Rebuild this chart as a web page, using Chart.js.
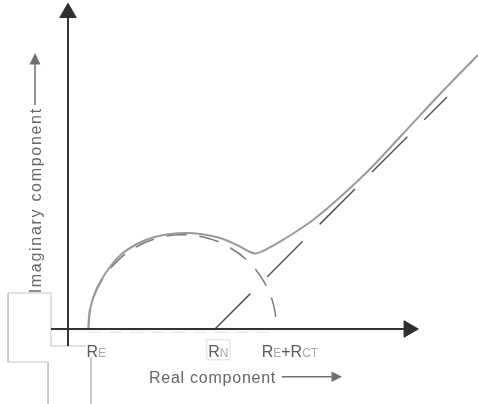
<!DOCTYPE html>
<html>
<head>
<meta charset="utf-8">
<script src="https://cdn.jsdelivr.net/npm/chart.js@4"></script>
<style>
  html, body { margin: 0; padding: 0; background: #fff; }
  #chart { display: block; }
</style>
</head>
<body>
<canvas id="chart" width="478" height="404"></canvas>
<script>
// Nyquist sketch: real vs imaginary component

// markers on the real axis
const R_E = 2.03;
const R_N = 14.7;
const R_ECT = 20.87;
const markValues = [R_E, R_N, R_ECT];
const markLabels = [
  [['R', 0], ['E', 1]],
  [['R', 0], ['N', 1]],
  [['R', 0], ['E', 1], ['+', 0], ['R', 0], ['CT', 1]],
];

const curveX = [2.03, 2.2, 2.9, 3.9, 5.2, 6.9, 8.5, 10.2, 11.9, 13.2, 15.2, 16.9, 18.2, 18.8, 19.6, 21.2, 22.9, 24.5, 26.5, 29.9, 33.2, 37.2, 41.0];
const curveY = [0, 2.0, 4.1, 5.8, 7.35, 8.5, 9.15, 9.5, 9.6, 9.5, 9.1, 8.4, 7.7, 7.55, 7.85, 8.73, 9.8, 10.9, 12.55, 15.7, 19.2, 23.5, 27.4];

// semicircle (dashed)
const arcX = [2.03, 2.35, 3.29, 4.79, 6.74, 9.01, 11.45, 13.89, 16.16, 18.11, 19.61, 20.55, 20.87];
const arcY = [0, 2.44, 4.71, 6.66, 8.16, 9.10, 9.42, 9.10, 8.16, 6.66, 4.71, 2.44, 0];

// 45 degree diffusion line (dashed)
const diffX = [R_N, 37.9];
const diffY = [0, 23.2];

// axes and arrow heads
const axisXLine = [[-1.7, 0], [34.08, 0]];
const axisYLine = [[0, -1.7], [0, 31.62]];
const arrowHeads = [[34.08, 0], [0, 31.62]];
const arrowRot = [90, 0];

// stray outline lines at the lower left
const frameA = [[1.8, -1.7], [-1.7, -1.7], [-1.7, 3.6], [-6.0, 3.6], [-6.0, -3.3], [-2.0, -3.3], [-2.0, -7.5]];
const frameB = [[2.3, -2.8], [2.3, -7.5]];

const pts = (xs, ys) => xs.map((x, i) => ({ x, y: ys[i] }));
const pairs = arr => arr.map(p => ({ x: p[0], y: p[1] }));

const lineDs = (data, color, width, extra) => Object.assign({
  data,
  showLine: true,
  borderColor: color,
  borderWidth: width,
  pointRadius: 0,
  fill: false,
  tension: 0,
}, extra || {});

const labelsPlugin = {
  id: 'sketchLabels',
  afterDraw(chart) {
    const ctx = chart.ctx;
    const xs = chart.scales.x;
    const ys = chart.scales.y;
    const base = ys.getPixelForValue(0) + 28.3;
    const shift = [-1.8, -6.7, -15];
    ctx.save();
    ctx.textBaseline = 'alphabetic';
    ctx.textAlign = 'left';

    markLabels.forEach((parts, i) => {
      let px = xs.getPixelForValue(markValues[i]) + shift[i];
      const start = px;
      parts.forEach(([t, sub]) => {
        ctx.font = sub ? '12px "Liberation Sans", Arial, sans-serif' : '16px "Liberation Sans", Arial, sans-serif';
        ctx.fillStyle = sub ? '#a8a8a8' : '#5a5a5a';
        ctx.fillText(t, px, base);
        px += ctx.measureText(t).width;
      });
      if (i === 1) {
        ctx.strokeStyle = '#dedede';
        ctx.lineWidth = 1;
        ctx.strokeRect(start - 1.5, base - 17.5, px - start + 3, 20);
      }
    });

    // axis titles
    ctx.fillStyle = '#666666';
    ctx.font = '16px "Liberation Sans", Arial, sans-serif';
    ctx.letterSpacing = '0.75px';
    ctx.fillText('Real component', 149, 383.3);

    ctx.save();
    ctx.translate(40.7, 293.3);
    ctx.rotate(-Math.PI / 2);
    ctx.letterSpacing = '1.7px';
    ctx.fillText('Imaginary component', 0, 0);
    ctx.restore();
    ctx.letterSpacing = '0px';

    // small arrows beside titles
    ctx.strokeStyle = '#707070';
    ctx.fillStyle = '#707070';
    ctx.lineWidth = 1.5;
    ctx.beginPath();
    ctx.moveTo(281.7, 376.7);
    ctx.lineTo(334, 376.7);
    ctx.stroke();
    ctx.beginPath();
    ctx.moveTo(342, 376.7);
    ctx.lineTo(331.5, 371.5);
    ctx.lineTo(331.5, 381.9);
    ctx.closePath();
    ctx.fill();

    ctx.beginPath();
    ctx.moveTo(35, 105);
    ctx.lineTo(35, 62);
    ctx.stroke();
    ctx.beginPath();
    ctx.moveTo(35, 53);
    ctx.lineTo(29.5, 64.5);
    ctx.lineTo(40.5, 64.5);
    ctx.closePath();
    ctx.fill();
    ctx.restore();
  }
};

new Chart(document.getElementById('chart'), {
  type: 'scatter',
  data: {
    datasets: [
      lineDs(pairs(arrowHeads), '#2e2e2e', 1, {
        showLine: false,
        pointStyle: 'triangle',
        pointRadius: 9.5,
        pointRotation: arrowRot,
        pointBackgroundColor: '#2e2e2e',
        order: 0,
      }),
      lineDs(pairs(axisXLine), '#333333', 2, { order: 1 }),
      lineDs(pairs(axisYLine), '#333333', 2, { order: 1 }),
      lineDs(pts(curveX, curveY), '#9a9a9a', 2, { tension: 0.35, order: 2 }),
      lineDs(pts(arcX, arcY), '#7a7a7a', 1.5, { tension: 0.4, borderDash: [20, 13], order: 3 }),
      lineDs(pts(diffX, diffY), '#555555', 1.5, { borderDash: [50, 24], order: 3 }),
      lineDs(pts([R_E, R_ECT], [-0.3, -0.3]), '#e0e0e0', 1, { borderDash: [13, 8], order: 4 }),
      lineDs(pairs(frameA), '#c4c4c4', 1, { order: 5 }),
      lineDs(pairs(frameB), '#c4c4c4', 1, { order: 5 }),
    ],
  },
  options: {
    responsive: false,
    animation: false,
    clip: false,
    layout: { padding: 0, autoPadding: false },
    plugins: {
      legend: { display: false },
      tooltip: { enabled: false },
    },
    scales: {
      x: { type: 'linear', display: false, min: -6.8, max: 41.0 },
      y: { type: 'linear', display: false, min: -7.5, max: 32.9 },
    },
  },
  plugins: [labelsPlugin],
});
</script>
</body>
</html>
